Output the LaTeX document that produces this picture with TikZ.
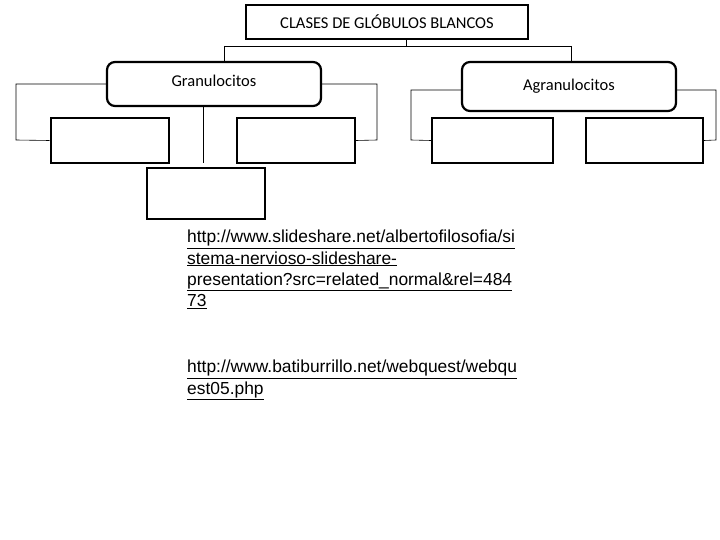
\documentclass[tikz,border=0pt]{standalone}
\usepackage{fontspec}
\setmainfont{Carlito}
\newfontfamily\arial{Liberation Sans}
\begin{document}
\begin{tikzpicture}[x=1pt,y=-1pt,
 bx/.style={draw,line width=2pt,minimum width=118pt,minimum height=45pt,inner sep=0},
 rb/.style={draw,line width=2.2pt,rounded corners=8pt,inner sep=0},
 ln/.style={line width=0.6pt},
 lk/.style={font=\arial\fontsize{17.4}{21.2}\selectfont,align=left,anchor=north west,inner sep=0}]
\useasboundingbox (0,0) rectangle (720,540);
\node[draw,line width=2pt,minimum width=282pt,minimum height=34pt,inner sep=0,font=\fontsize{16.5}{19}\selectfont] (t) at (387,22) {CLASES DE GLÓBULOS BLANCOS};
\node[rb,minimum width=214pt,minimum height=44pt,font=\fontsize{16.5}{19}\selectfont] (g) at (214,84) {\raisebox{6pt}{Granulocitos}};
\node[rb,minimum width=214pt,minimum height=49pt,font=\fontsize{16.5}{19}\selectfont] (a) at (569,86.5) {Agranulocitos};
\node[bx] (b1) at (109.5,140.5) {};
\node[bx] (b2) at (296,140.5) {};
\node[bx,minimum height=51pt] (b3) at (205.5,193.5) {};
\node[bx,minimum width=121pt] (b4) at (492.5,140.5) {};
\node[bx,minimum width=117pt] (b5) at (644.5,140.5) {};
\coordinate (j) at (406,46);
\draw[ln] (t.south -| j) -- (j);
\draw[ln] (224,46) -- (571,46);
\draw[ln] (224,46) -- (224,62);
\draw[ln] (571,46) -- (571,62);
\draw[ln] (g.west |- 0,84) -- (16,84) -- (16,140) -- (b1.west);
\draw[ln] (g.east |- 0,84) -- (377,84) -- (377,140) -- (b2.east);
\draw[ln] (203,106) -- (203,163);
\draw[ln] (a.west |- 0,90) -- (411,90) -- (411,140) -- (b4.west);
\draw[ln] (a.east |- 0,90) -- (716,90) -- (716,140) -- (b5.east);
\node[lk] (l1) at (187,230) {\underline{http://www.slideshare.net/albertofilosofia/si}\\\underline{stema-nervioso-slideshare-}\\\underline{presentation?src=related\_normal\&rel=484}\\\underline{73}};
\node[lk] (l2) at (187,360) {\underline{http://www.batiburrillo.net/webquest/webqu}\\\underline{est05.php}};
\end{tikzpicture}
\end{document}
